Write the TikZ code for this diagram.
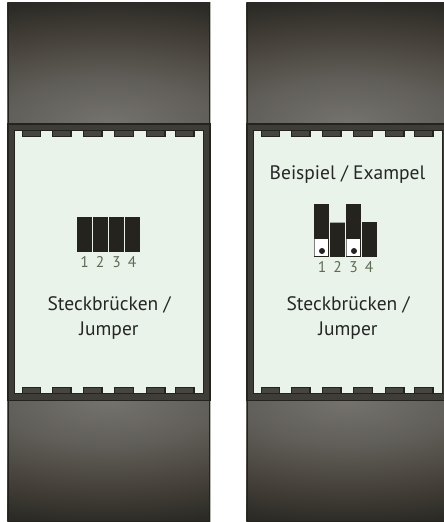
\documentclass[tikz,border=0pt]{standalone}
\usepackage{fontspec}
\setmainfont{PT Sans}
\definecolor{edge}{HTML}{24231E}
\definecolor{band}{HTML}{3E3D37}
\definecolor{tabc}{HTML}{46453F}
\definecolor{screenc}{HTML}{E9F3E9}
\definecolor{digit}{HTML}{5F6B55}
\definecolor{rimc}{HTML}{B5B5B2}
\pgfdeclareradialshading{modglow}{\pgfpoint{0bp}{0bp}}{%
 rgb(0bp)=(0.46,0.45,0.43);
 rgb(9bp)=(0.38,0.37,0.35);
 rgb(18bp)=(0.27,0.255,0.225);
 rgb(25bp)=(0.17,0.165,0.145);
 rgb(50bp)=(0.16,0.155,0.135)}
\tikzset{
 tabpiece/.style={fill=tabc,draw=edge,line width=1.1pt},
 lbl/.style={font=\fontsize{19.5}{21}\selectfont,text=black!85,inner sep=0pt,anchor=center},
 num/.style={font=\fontsize{15.5}{17}\selectfont,text=digit,inner sep=0pt,anchor=center},
 jump/.style={fill=edge,draw=none},
}
% #1 = horizontal shift
\newcommand{\modbody}[1]{%
 \begin{scope}[xshift=#1pt]
  \fill[rimc] (7,1.5) rectangle (211,522);
  \begin{scope}
   \clip (7.5,2.5) rectangle (209.8,124);
   \fill[shading=modglow] (-191.4,0) rectangle (408.6,248);
  \end{scope}
  \begin{scope}
   \clip (7.5,400) rectangle (209.8,522);
   \fill[shading=modglow] (-191.4,276) rectangle (408.6,524);
  \end{scope}
  \draw[edge,line width=1pt] (8,2.5) -- (8,124) (209.5,2.5) -- (209.5,124)
       (8,400) -- (8,522) (209.5,400) -- (209.5,522) (8,521.7) -- (209.5,521.7);
  \fill[band] (7,123) rectangle (210.5,401);
  \draw[edge,line width=1.6pt] (7.8,123.8) rectangle (209.7,400.4);
  \fill[screenc] (14.7,130.7) rectangle (203,393);
  \draw[edge,line width=1.1pt] (14.2,130.2) rectangle (203.5,393.5);
  \foreach \a/\b in {22.2/40.4,52.8/71,83.8/102,114.8/133.4,146.8/165,175.8/194}{
    \fill[rimc] (\a-.5,130.7) rectangle (\b+.9,137.4);
    \filldraw[tabpiece] (\a,130.4) rectangle (\b,136.2);
    \fill[rimc] (\a-.5,386.6) rectangle (\b+.9,393);
    \filldraw[tabpiece] (\a,387.8) rectangle (\b,393.6);
  }
 \end{scope}}
\begin{document}
\begin{tikzpicture}[x=1pt,y=-1pt]
\useasboundingbox (0,0) rectangle (444,522);
\fill[white] (0,0) rectangle (444,522);
\begin{scope}
 \clip (0,0) rectangle (444,522);
 \modbody{0}
 \modbody{239}
\end{scope}
% left jumpers
\foreach \x in {77,93,109,125}{\fill[jump] (\x,217) rectangle (\x+15,251.7);}
\node[num] (la) at (84.5,262) {1};
\node[num] (lb) at (100,262) {2};
\node[num] (lc) at (116.5,262) {3};
\node[num] (ld) at (132,262) {4};
\node[lbl] (ls) at (109,305) {Steckbrücken /};
\node[lbl] (lj) at (109,331) {Jumper};
% right jumpers
\fill[jump] (314,204) rectangle (329,238.7);
\fill[jump] (346,204) rectangle (361,238.7);
\fill[jump] (330,222) rectangle (345,257);
\fill[jump] (362,222) rectangle (377,257);
\draw[gray!70,line width=.4pt] (330,221.8) -- (345,221.8);
\foreach \x in {314,346}{
 \fill[white] (\x,238.7) rectangle (\x+15,257);
 \draw[gray,line width=.9pt] (\x+.5,238.7) -- (\x+.5,256.5);
 \draw[edge,line width=1pt] (\x,256.5) -- (\x+15,256.5);
 \draw[edge,line width=.5pt] (\x+14.6,238.7) -- (\x+14.6,256.5);
 \fill[edge] (\x+8,251) circle (3);
}
\node[num] (ra) at (322,267) {1};
\node[num] (rb) at (337.5,267) {2};
\node[num] (rc) at (353.5,267) {3};
\node[num] (rd) at (369,267) {4};
\node[lbl] (re) at (347.5,175) {Beispiel / Exampel};
\node[lbl] (rs) at (348,305) {Steckbrücken /};
\node[lbl] (rj) at (348,331) {Jumper};
\end{tikzpicture}
\end{document}
